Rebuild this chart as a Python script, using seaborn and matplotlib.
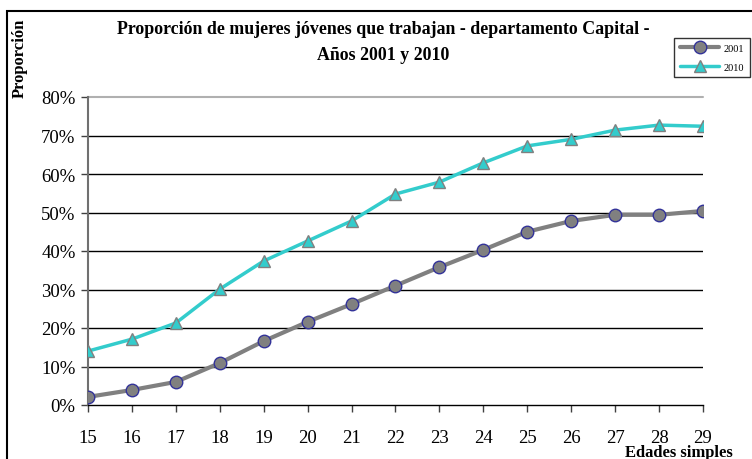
import pandas as pd
import matplotlib
matplotlib.use("Agg")
import matplotlib.pyplot as plt
import seaborn as sns
from matplotlib.ticker import PercentFormatter
from matplotlib.patches import Rectangle

# Data
edades = [15, 16, 17, 18, 19, 20, 21, 22, 23, 24, 25, 26, 27, 28, 29]
prop_2001 = [0.021, 0.039, 0.060, 0.109, 0.166, 0.216, 0.262, 0.310, 0.358, 0.403, 0.450, 0.478, 0.494, 0.494, 0.504]
prop_2010 = [0.140, 0.171, 0.213, 0.301, 0.374, 0.426, 0.478, 0.548, 0.579, 0.629, 0.673, 0.690, 0.714, 0.727, 0.724]
y_ticks = [0, 0.1, 0.2, 0.3, 0.4, 0.5, 0.6, 0.7, 0.8]

df = pd.DataFrame({"edad": edades, "2001": prop_2001, "2010": prop_2010})

sns.set_style("white")
plt.rcParams['font.family'] = ['Liberation Serif', 'DejaVu Serif']
plt.rcParams['text.color'] = 'black'
plt.rcParams['xtick.color'] = 'black'
plt.rcParams['ytick.color'] = 'black'

fig = plt.figure(figsize=(7.52, 4.6), dpi=100)
ax = fig.add_axes([88 / 752, 54 / 460, 615 / 752, 308 / 460])

# outer chart frame (runs off the right and bottom edges)
fig.patches.append(Rectangle((7 / 752, -0.05), 1.1, 1 - 12 / 460 + 0.05,
                             transform=fig.transFigure, fill=False,
                             edgecolor='black', linewidth=1.5, zorder=0))

sns.lineplot(data=df, x='edad', y='2001', ax=ax, color='#808080', linewidth=3,
             marker='o', markersize=9, markerfacecolor='#808080',
             markeredgecolor='#333399', markeredgewidth=1, label='2001', zorder=3)
sns.lineplot(data=df, x='edad', y='2010', ax=ax, color='#33CCCC', linewidth=2.5,
             marker='^', markersize=8, markerfacecolor='#33CCCC',
             markeredgecolor='#808080', markeredgewidth=1, label='2010', zorder=4)

ax.set_xlim(15, 29)
ax.set_ylim(0, 0.8)
ax.set_xticks(edades)
ax.set_yticks(y_ticks)
ax.yaxis.set_major_formatter(PercentFormatter(1.0, decimals=0))

# gridlines: dark ones, top one light gray
for v in y_ticks[1:-1]:
    ax.axhline(v, color='black', linewidth=1, zorder=1)
ax.axhline(0.8, color='#b0b0b0', linewidth=1.5, zorder=1, clip_on=False)

for s in ['top', 'right']:
    ax.spines[s].set_visible(False)
ax.spines['left'].set_color('#707070')
ax.spines['left'].set_linewidth(1.5)
ax.spines['bottom'].set_color('black')
ax.spines['bottom'].set_linewidth(1)

ax.tick_params(axis='both', direction='out', length=5, width=1, labelsize=13.5,
               color='#404040', labelcolor='black', pad=4, bottom=True, left=True)
ax.tick_params(axis='x', pad=12)

ax.set_xlabel('')
ax.set_ylabel('')
fig.text(679 / 752, 1 - 453 / 460, 'Edades simples', ha='center', va='center',
         fontsize=12, fontweight='bold')
fig.text(20 / 752, 1 - 19 / 460, 'Proporción', rotation=90, ha='center', va='top',
         fontsize=12, fontweight='bold')

fig.text(383 / 752, 1 - 30 / 460, 'Proporción de mujeres jóvenes que trabajan - departamento Capital -',
         ha='center', va='center', fontsize=12.9, fontweight='bold')
fig.text(383 / 752, 1 - 56 / 460, 'Años 2001 y 2010',
         ha='center', va='center', fontsize=12.9, fontweight='bold')

leg = ax.legend(loc='upper left', bbox_to_anchor=(674 / 752, 1 - 39 / 460),
                bbox_transform=fig.transFigure, frameon=True, fancybox=False,
                fontsize=7.5, handlelength=3.8, borderpad=0.55, labelspacing=0.9,
                handletextpad=0.4, borderaxespad=0)
leg.get_frame().set_edgecolor('black')
leg.get_frame().set_linewidth(1)

fig.savefig('out.png', dpi=100)
